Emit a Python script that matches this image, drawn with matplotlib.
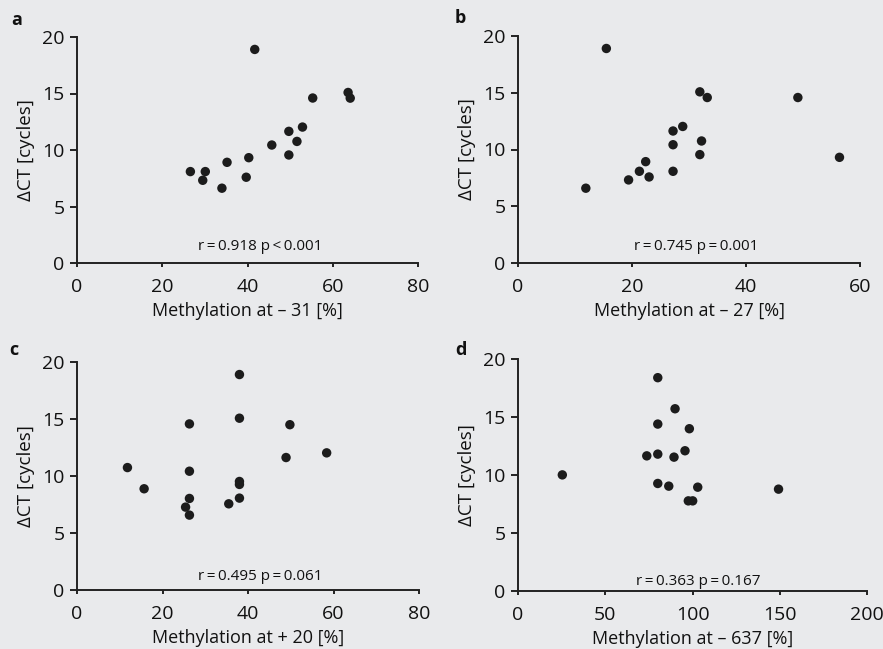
"""
Delta CT vs. promoter methylation at four CpG sites (panels a-d).
Output: out.png
"""
import matplotlib
matplotlib.use("Agg")
import matplotlib.pyplot as plt

BG = "#e9eaec"
INK = "#1c1c1c"

# panel a: methylation at -31
meth_a = [26.6, 29.5, 30.1, 34.0, 35.2, 39.7, 40.3, 41.7, 45.7, 49.7, 49.7, 51.6, 52.9, 55.3, 63.6, 64.1]
dct_a = [8.09, 7.32, 8.09, 6.62, 8.91, 7.59, 9.32, 18.9, 10.44, 9.56, 11.65, 10.76, 12.03, 14.6, 15.09, 14.59]

# panel b: methylation at -27
meth_b = [11.9, 15.5, 19.4, 21.3, 22.4, 23.0, 27.2, 27.2, 27.2, 28.9, 31.9, 31.9, 32.2, 33.2, 49.1, 56.4]
dct_b = [6.59, 18.9, 7.32, 8.08, 8.93, 7.58, 11.63, 10.42, 8.08, 12.03, 15.08, 9.55, 10.75, 14.58, 14.58, 9.31]

# panel c: methylation at +20
meth_c = [11.8, 15.7, 25.4, 26.3, 26.3, 26.3, 26.3, 35.5, 38.0, 38.0, 38.0, 38.0, 38.0, 48.9, 49.8, 58.4]
dct_c = [10.74, 8.88, 7.27, 14.57, 10.42, 8.03, 6.57, 7.56, 18.9, 15.07, 9.52, 9.26, 8.06, 11.62, 14.5, 12.03]

# panel d: methylation at -637
meth_d = [25.4, 73.8, 80.1, 80.1, 80.1, 80.1, 86.4, 89.4, 90.0, 95.7, 98.2, 97.6, 100.1, 103.0, 149.3]
dct_d = [10.01, 11.65, 18.39, 14.39, 11.80, 9.27, 9.04, 11.54, 15.71, 12.09, 13.99, 7.77, 7.77, 8.95, 8.78]

PANELS = [
    # letter, x, y, xmax, xticks, xlabel, stats text
    ("a", meth_a, dct_a, 80, [0, 20, 40, 60, 80], "Methylation at \u2013 31 [%]", "r\u2009=\u20090.918 p\u2009<\u20090.001"),
    ("b", meth_b, dct_b, 60, [0, 20, 40, 60], "Methylation at \u2013 27 [%]", "r\u2009=\u20090.745 p\u2009=\u20090.001"),
    ("c", meth_c, dct_c, 80, [0, 20, 40, 60, 80], "Methylation at + 20 [%]", "r\u2009=\u20090.495 p\u2009=\u20090.061"),
    ("d", meth_d, dct_d, 200, [0, 50, 100, 150, 200], "Methylation at \u2013 637 [%]", "r\u2009=\u20090.363 p\u2009=\u20090.167"),
]

W, H = 883, 649
# axes boxes in pixels: left, top, right, bottom
BOXES = [(77, 37, 418, 263), (518, 36, 860, 263), (77, 362, 419, 590), (518, 359, 867, 591)]
LETTERS = [(17, 20), (460, 18), (14, 350), (461, 350)]
STATS_POS = [(0.537, 0.073), (0.52, 0.073), (0.535, 0.058), (0.517, 0.039)]

plt.rcParams["font.family"] = ["Open Sans", "DejaVu Sans"]

fig = plt.figure(figsize=(W / 100, H / 100), dpi=100)
fig.patch.set_facecolor(BG)

for (letter, xs, ys, xmax, xticks, xlabel, stats), box, lpos, spos in zip(PANELS, BOXES, LETTERS, STATS_POS):
    l, t, r, b = box
    ax = fig.add_axes([l / W, 1 - b / H, (r - l) / W, (b - t) / H])
    ax.set_facecolor(BG)
    ax.scatter(xs, ys, s=46, color=INK, edgecolors="none", zorder=3, clip_on=False)
    ax.set_xlim(0, xmax)
    ax.set_ylim(0, 20)
    ax.set_xticks(xticks)
    ax.set_yticks([0, 5, 10, 15, 20])
    for side in ("top", "right"):
        ax.spines[side].set_visible(False)
    for side in ("left", "bottom"):
        ax.spines[side].set_color("#222222")
        ax.spines[side].set_linewidth(1.4)
    ax.tick_params(axis="y", direction="out", length=5, width=1.4, color="#222222",
                   labelsize=14, labelcolor="#111111", pad=4)
    ax.tick_params(axis="x", direction="out", length=3, width=1.4, color="#222222",
                   labelsize=14, labelcolor="#111111", pad=8)
    ax.set_xlabel(xlabel, fontsize=13, color="#111111", labelpad=4)
    ax.set_ylabel("\u0394CT [cycles]", fontsize=13.5, color="#111111", labelpad=5)
    ax.text(spos[0], spos[1], stats, transform=ax.transAxes, ha="center", va="center",
            fontsize=11, color="#111111")
    fig.text(lpos[0] / W, 1 - lpos[1] / H, letter, ha="center", va="center",
             fontsize=13, fontweight="bold", color="#111111")

fig.savefig("out.png", dpi=100, facecolor=BG)
